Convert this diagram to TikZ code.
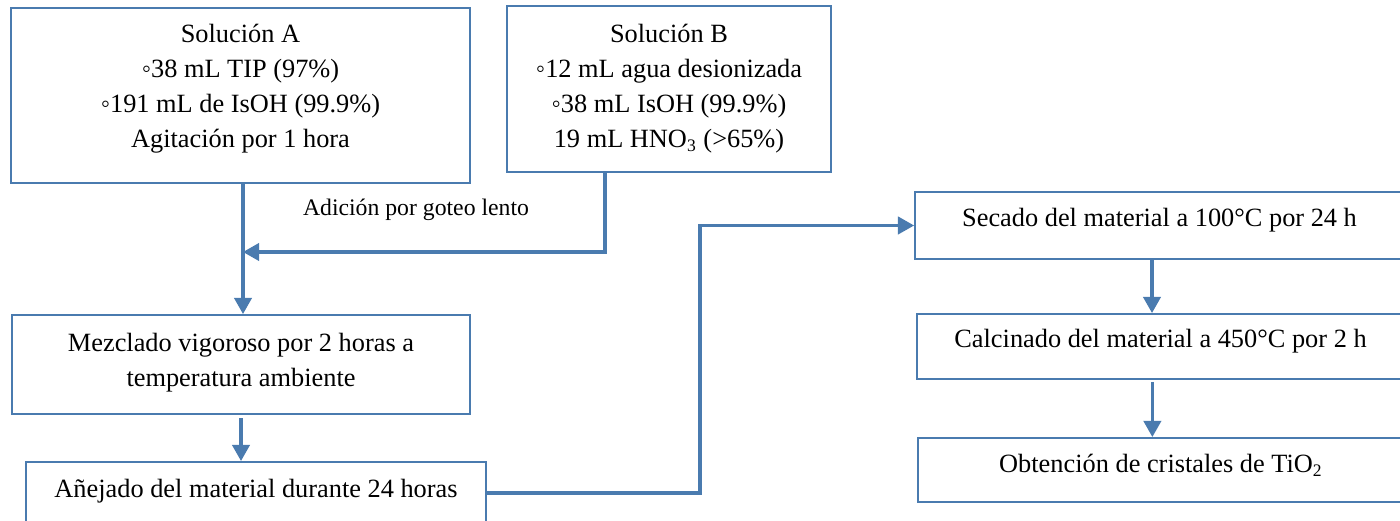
\documentclass[tikz,border=0pt]{standalone}
\usepackage{fontspec}
\setmainfont{Liberation Serif}
\usepackage{tikz}
\usetikzlibrary{arrows.meta}
\usepackage{xcolor}
\definecolor{azul}{HTML}{4A7BAF}

\begin{document}
\begin{tikzpicture}[x=0.016cm,y=-0.016cm,
    caja/.style={shape=rectangle,
      draw=azul,
      line width=0.9pt,
      align=center,
      inner sep=0pt,
      font=\fontsize{12}{15.9}\selectfont},
    flecha/.style={-{Triangle[length=2.6mm,width=2.8mm]},draw=azul,line width=1.4pt}]
    %\draw[help lines] (0,0) grid[step=100] (1400,521); % Only for Development
    \clip (0,0) rectangle (1400,521);

    \node[caja,
      text depth = 0.31cm,
      minimum height = 2.8cm,
      minimum width = 7.344cm] (solA) at (240.5,95.5)
      {Solución A\\◦38 mL TIP (97\%)\\◦191 mL de IsOH (99.9\%)\\Agitación por 1 hora};
    \node[caja,
      minimum height = 2.656cm,
      minimum width = 5.184cm] (solB) at (669,89)
      {Solución B\\◦12 mL agua desionizada\\◦38 mL IsOH (99.9\%)\\19 mL HNO\textsubscript{3} (>65\%)};

    \node[caja,
      text depth = 0.15cm,
      minimum height = 1.584cm,
      minimum width = 7.328cm] (mezcla) at (241,364.5)
      {Mezclado vigoroso por 2 horas a\\temperatura ambiente};
    \node[caja,
      text depth = 0.22cm,
      minimum height = 1.056cm,
      minimum width = 7.36cm] (anejado) at (256,495)
      {Añejado del material durante 24 horas};

    \node[caja,
      text depth = 0.25cm,
      minimum height = 1.072cm,
      minimum width = 7.824cm] (secado) at (1159.5,225.5)
      {Secado del material a 100°C por 24 h};
    \node[caja,
      text depth = 0.25cm,
      minimum height = 1.04cm,
      minimum width = 7.792cm] (calcinado) at (1160.5,346.5)
      {Calcinado del material a 450°C por 2 h};
    \node[caja,
      text depth = 0.21cm,
      minimum height = 1.024cm,
      minimum width = 7.776cm] (cristales) at (1161,470)
      {Obtención de cristales de TiO\textsubscript{2}};

    \node[font=\fontsize{10.8}{13}\selectfont] (goteo) at (416,210) {Adición por goteo lento};

    % union de las dos soluciones
    \coordinate (union) at (243,252);
    \coordinate (bajada) at (605,252);
    \draw[flecha] (solA.south -| union) -- (mezcla.north -| union);
    \draw[flecha] (solB.south -| bajada) -- (bajada) -- (union);

    \draw[flecha] ([yshift=-0.05cm]mezcla.south) -- (mezcla.south |- anejado.north);

    \coordinate (codo) at (700,493);
    \draw[flecha] (anejado.east |- codo) -- (codo) |- (secado.west);

    \draw[flecha] ([xshift=-0.12cm]secado.south) -- ([xshift=-0.12cm]secado.south |- calcinado.north);
    \draw[flecha] ([xshift=-0.13cm,yshift=-0.03cm]calcinado.south) -- ([xshift=-0.13cm]calcinado.south |- cristales.north);

  \end{tikzpicture}
\end{document}
